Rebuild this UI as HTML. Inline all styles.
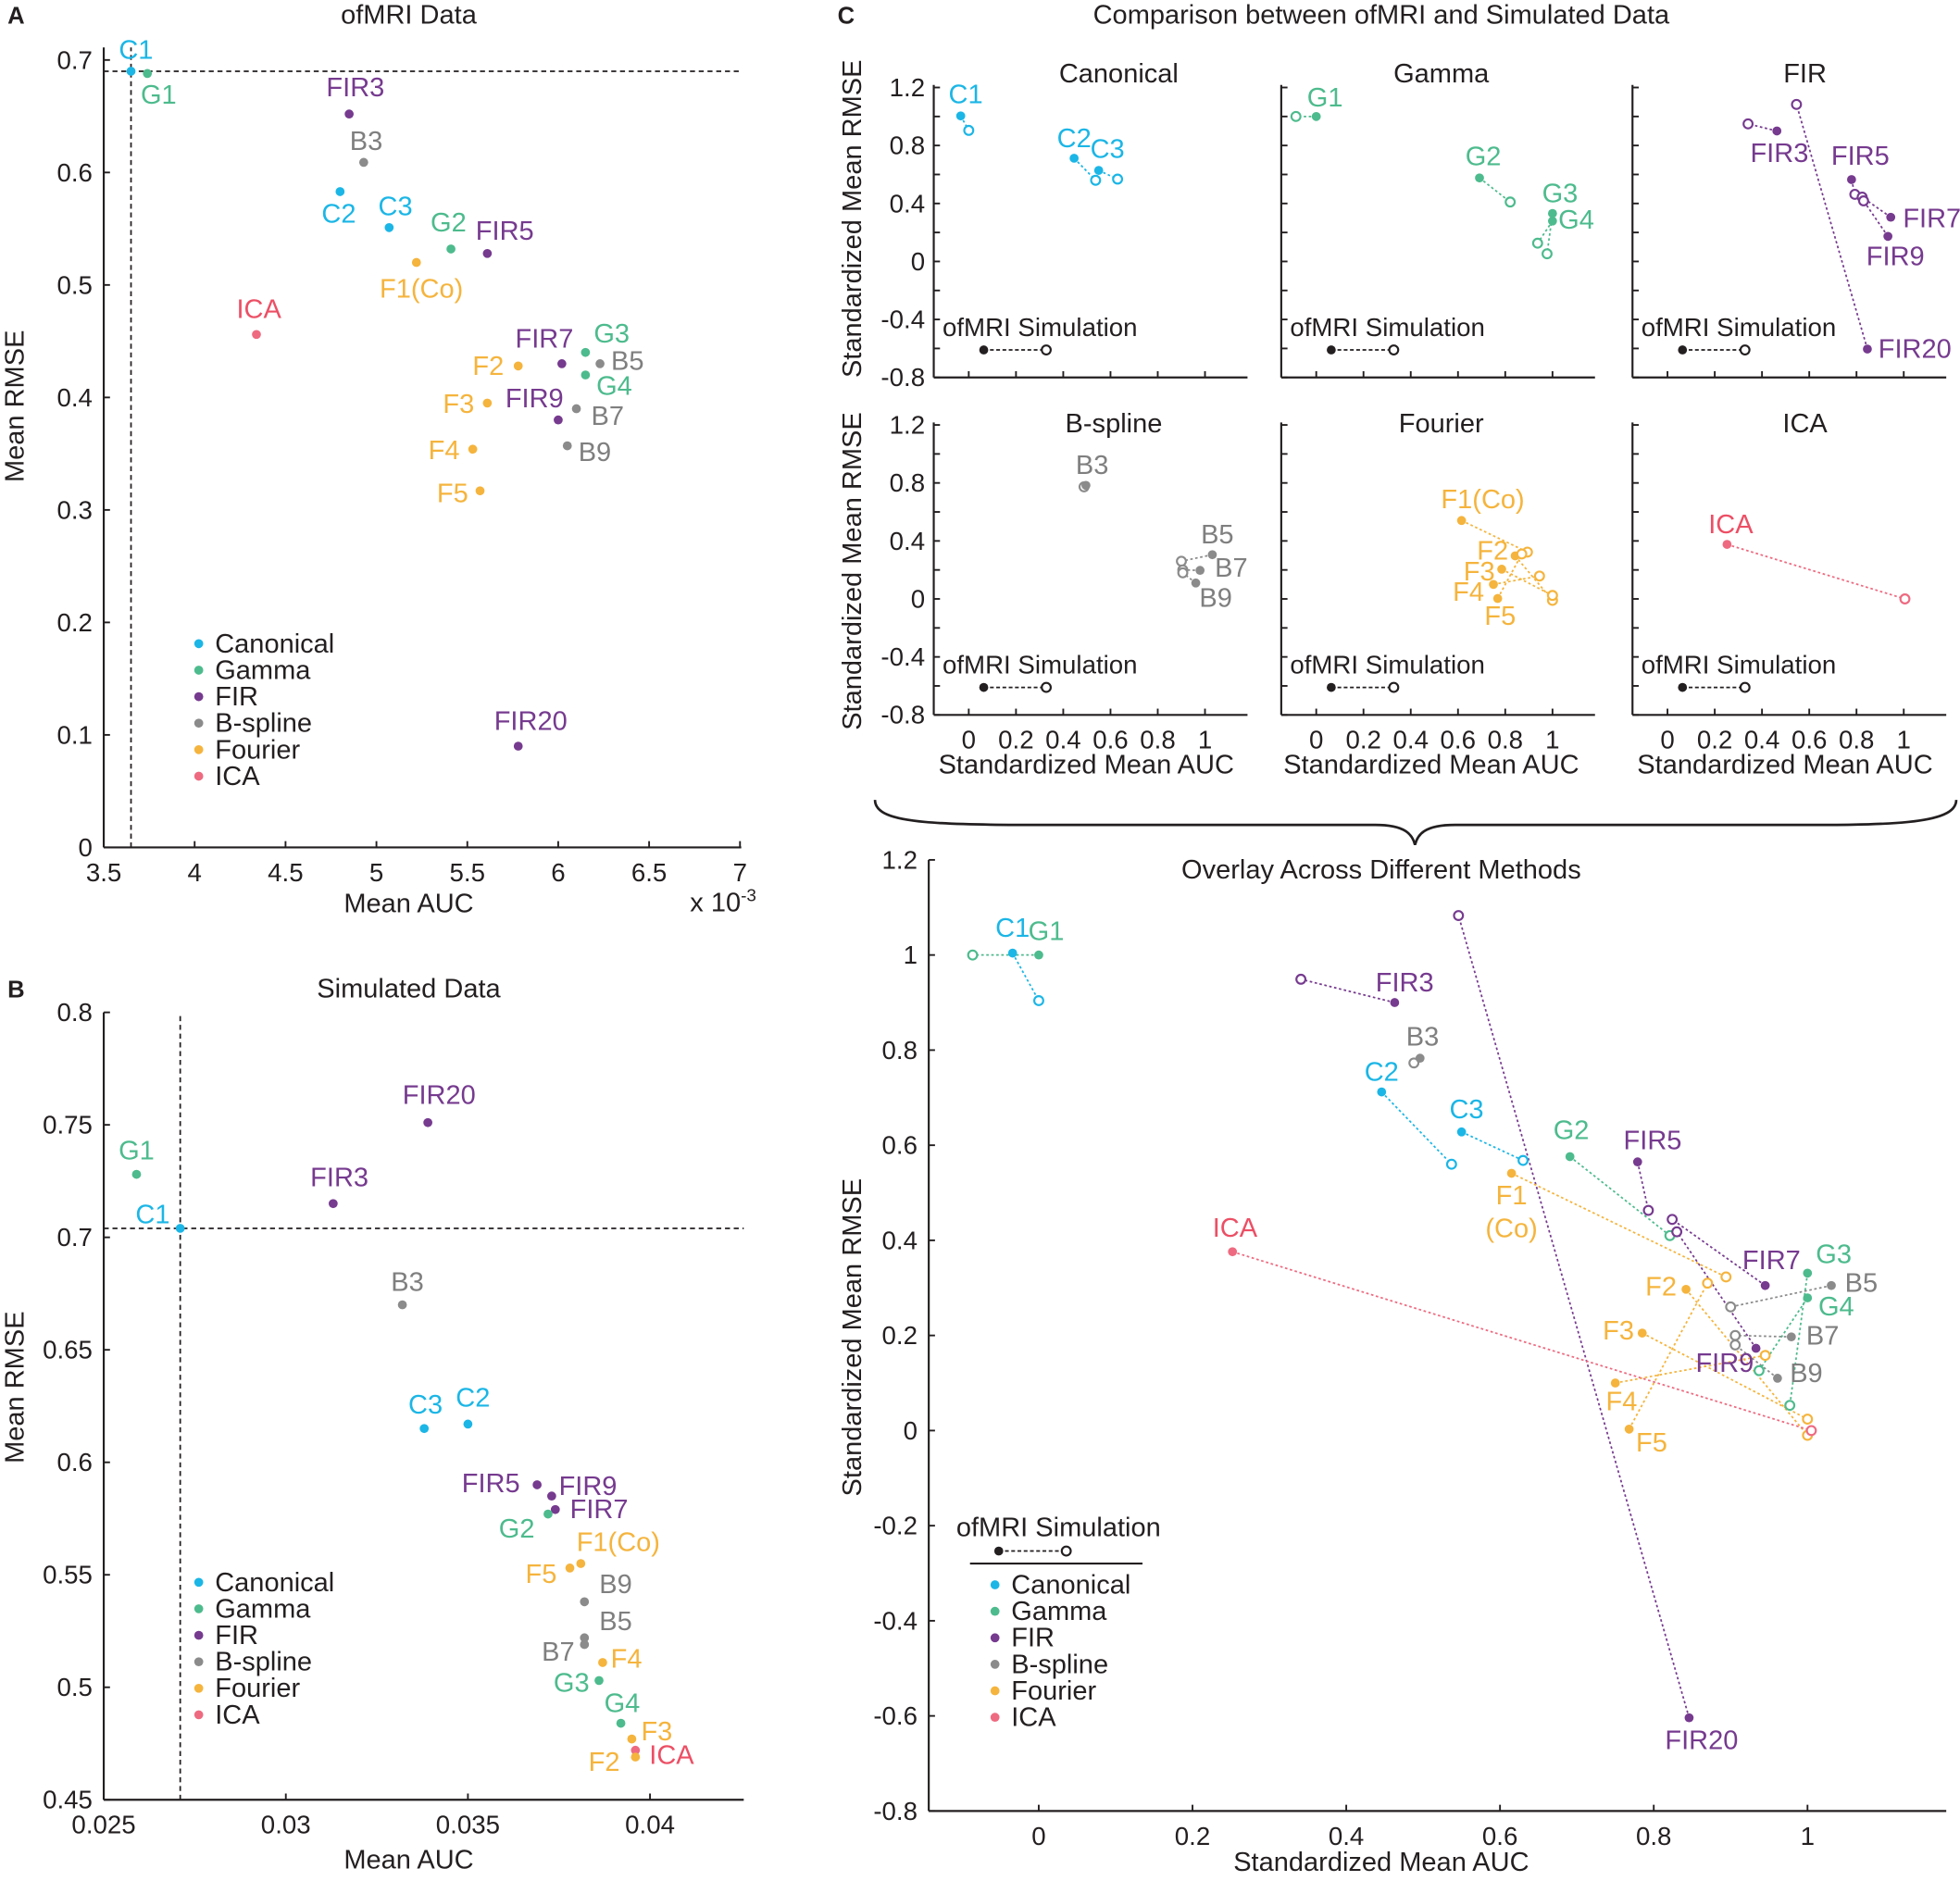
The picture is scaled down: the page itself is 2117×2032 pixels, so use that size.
<!DOCTYPE html>
<html><head><meta charset="utf-8"><style>
html,body{margin:0;padding:0;background:#fff}
svg{display:block}
text{font-family:"Liberation Sans",Arial,sans-serif;fill:#231f20}
</style></head><body>
<svg id="fig" xmlns="http://www.w3.org/2000/svg" width="2117" height="2032" viewBox="0 0 1568 1505" preserveAspectRatio="none">
<g font-size="21.5">
<text x="6" y="19" font-weight="bold" font-size="19">A</text>
<text x="6" y="798" font-weight="bold" font-size="19">B</text>
<text x="670" y="19" font-weight="bold" font-size="19">C</text>
<text x="327" y="19" text-anchor="middle">ofMRI Data</text>
<text x="327" y="798" text-anchor="middle">Simulated Data</text>
<text x="1105" y="19" text-anchor="middle">Comparison between ofMRI and Simulated Data</text>
<text x="1105" y="703" text-anchor="middle">Overlay Across Different Methods</text>
<text x="327" y="730" text-anchor="middle">Mean AUC</text>
<text x="552" y="729">x 10<tspan font-size="14" dy="-8">-3</tspan></text>
<text transform="translate(19,325) rotate(-90)" text-anchor="middle">Mean RMSE</text>
<text x="327" y="1495" text-anchor="middle">Mean AUC</text>
<text transform="translate(19,1110) rotate(-90)" text-anchor="middle">Mean RMSE</text>
<text transform="translate(689,175) rotate(-90)" text-anchor="middle">Standardized Mean RMSE</text>
<text transform="translate(689,457) rotate(-90)" text-anchor="middle">Standardized Mean RMSE</text>
<text x="869" y="619" text-anchor="middle">Standardized Mean AUC</text>
<text x="1145" y="619" text-anchor="middle">Standardized Mean AUC</text>
<text x="1428" y="619" text-anchor="middle">Standardized Mean AUC</text>
<text transform="translate(689,1070) rotate(-90)" text-anchor="middle">Standardized Mean RMSE</text>
<text x="1105" y="1497" text-anchor="middle">Standardized Mean AUC</text>
<text x="895" y="66" text-anchor="middle">Canonical</text>
<text x="1153" y="66" text-anchor="middle">Gamma</text>
<text x="1444" y="66" text-anchor="middle">FIR</text>
<text x="891" y="346" text-anchor="middle">B-spline</text>
<text x="1153" y="346" text-anchor="middle">Fourier</text>
<text x="1444" y="346" text-anchor="middle">ICA</text>
</g>
<path d="M700,640 C700,662 760,660 900,660 L1100,660 C1125,660 1130,668 1132,676 C1134,668 1139,660 1164,660 L1400,660 C1500,660 1565,662 1565,640" fill="none" stroke="#231f20" stroke-width="2"/>
</svg>
<script>
// ---- Panel A data (ofMRI) ----
const aLabels = ['C1','G1','FIR3','B3','C2','C3','G2','FIR5','F1(Co)','ICA','FIR7','G3','B5','G4','F2','F3','FIR9','B7','F4','B9','F5','FIR20'];
const aX = [3.65,3.74,4.85,4.93,4.80,5.07,5.41,5.61,5.22,4.34,6.02,6.15,6.23,6.15,5.78,5.61,6.00,6.10,5.53,6.05,5.57,5.78];
const aY = [0.690,0.688,0.652,0.609,0.583,0.551,0.532,0.528,0.520,0.456,0.430,0.440,0.430,0.420,0.428,0.395,0.380,0.390,0.354,0.357,0.317,0.090];
const aXTicks = [3.5,4,4.5,5,5.5,6,6.5,7];
const aYTicks = [0,0.1,0.2,0.3,0.4,0.5,0.6,0.7];
const aRef = [3.65,0.690];
// ---- Panel B data (simulated) ----
const bLabels = ['G1','C1','FIR3','FIR20','B3','C3','C2','FIR5','FIR9','FIR7','G2','F1(Co)','F5','B9','B5','B7','F4','G3','G4','F3','ICA','F2'];
const bX = [0.0259,0.0271,0.0313,0.0339,0.0332,0.0338,0.0350,0.0369,0.0373,0.0374,0.0372,0.0381,0.0378,0.0382,0.0382,0.0382,0.0387,0.0386,0.0392,0.0395,0.0396,0.0396];
const bY = [0.728,0.704,0.715,0.751,0.670,0.615,0.617,0.590,0.585,0.579,0.577,0.555,0.553,0.538,0.522,0.519,0.511,0.503,0.484,0.477,0.472,0.469];
const bXTicks = [0.025,0.03,0.035,0.04];
const bYTicks = [0.45,0.5,0.55,0.6,0.65,0.7,0.75,0.8];
const bRef = [0.0271,0.704];
// ---- Standardized data (panel C) ----
const sLabels = ['C1','C2','C3','G1','G2','G3','G4','FIR3','FIR5','FIR7','FIR9','FIR20','B3','B5','B7','B9','F1(Co)','F2','F3','F4','F5','ICA'];
const sGroup  = ['C','C','C','G','G','G','G','FIR','FIR','FIR','FIR','FIR','B','B','B','B','F','F','F','F','F','ICA'];
const sOfX  = [-0.034,0.446,0.550,0.000,0.691,1.000,1.000,0.463,0.779,0.945,0.933,0.846,0.496,1.031,0.979,0.961,0.615,0.842,0.785,0.750,0.768,0.252];
const sOfY  = [1.004,0.712,0.628,1.000,0.576,0.331,0.279,0.900,0.565,0.305,0.173,-0.604,0.783,0.305,0.197,0.110,0.541,0.297,0.205,0.100,0.003,0.376];
const sSimX = [0.000,0.537,0.630,-0.086,0.821,0.977,0.937,0.341,0.793,0.824,0.830,0.546,0.488,0.900,0.906,0.906,0.894,1.000,1.000,0.945,0.870,1.005];
const sSimY = [0.904,0.560,0.568,1.000,0.410,0.053,0.126,0.949,0.463,0.444,0.418,1.083,0.773,0.260,0.200,0.180,0.323,-0.010,0.024,0.158,0.310,0.000];
const sYTicksSmall = [-0.8,-0.4,0,0.4,0.8,1.2];
const sXTicksSmall = [0,0.2,0.4,0.6,0.8,1];
const sYTicksBig = [-0.8,-0.6,-0.4,-0.2,0,0.2,0.4,0.6,0.8,1,1.2];
const sXTicksBig = [0,0.2,0.4,0.6,0.8,1];
const legendNames = ['Canonical','Gamma','FIR','B-spline','Fourier','ICA'];
const legendGroups = ['C','G','FIR','B','F','ICA'];

const COLORS = {C:'#1bb6e6', G:'#4dbb8d', FIR:'#763a8f', B:'#8b8b8b', F:'#f5b43d', ICA:'#ee6a80'};
const TXT = {C:'#1bb6e6', G:'#4dbb8d', FIR:'#763a8f', B:'#7f7f7f', F:'#f5b43d', ICA:'#ec4f65'};
const FS = 21.5, TFS = 20.5;
function grp(l){ if(l.startsWith('FIR')) return 'FIR'; if(l.startsWith('ICA')) return 'ICA'; return l[0]; }

// label offsets (layout only)
const aOff = {'C1':[4,-17],'G1':[9,17],'FIR3':[5,-21],'B3':[2,-17],'C2':[-1,18],'C3':[5,-17],'G2':[-2,-21],'FIR5':[14,-18],'F1(Co)':[4,21],'ICA':[2,-20],'FIR7':[-14,-20],'G3':[21,-15],'B5':[22,-2],'G4':[23,9],'F2':[-24,0],'F3':[-23,1],'FIR9':[-19,-17],'B7':[25,6],'F4':[-23,1],'B9':[22,5],'F5':[-22,2],'FIR20':[10,-20]};
const bOff = {'G1':[0,-19],'C1':[-22,-11],'FIR3':[5,-21],'FIR20':[9,-22],'B3':[4,-18],'C3':[1,-19],'C2':[4,-21],'FIR5':[-37,-1],'FIR9':[29,-8],'FIR7':[35,0],'G2':[-25,12],'F1(Co)':[30,-17],'F5':[-23,5],'B9':[25,-14],'B5':[25,-13],'B7':[-21,6],'F4':[19,-3],'G3':[-22,2],'G4':[1,-16],'F3':[20,-6],'ICA':[29,4],'F2':[-25,4]};
const smallOff = {'C1':[4,-17],'C2':[0,-16],'C3':[7,-17],'G1':[7,-15],'G2':[3,-17],'G3':[6,-16],'G4':[19,-1],'FIR3':[2,18],'FIR5':[7,-19],'FIR7':[33,1],'FIR9':[6,16],'FIR20':[38,0],'B3':[5,-16],'B5':[4,-16],'B7':[25,-2],'B9':[16,12],'F1(Co)':[17,-17],'F2':[-18,-4],'F3':[-18,2],'F4':[-20,6],'F5':[2,14],'ICA':[3,-16]};
const bigOff = {'C1':[0,-20],'G1':[6,-19],'C2':[0,-16],'C3':[4,-18],'G2':[1,-21],'G3':[21,-15],'G4':[23,7],'FIR3':[8,-16],'FIR5':[12,-17],'FIR7':[5,-20],'FIR9':[-25,12],'FIR20':[10,18],'B3':[2,-17],'B5':[24,-2],'B7':[25,-1],'B9':[23,-4],'F1(Co)':[0,18],'F2':[-20,-2],'F3':[-19,-2],'F4':[5,15],'F5':[18,11],'ICA':[2,-19]};

const svg = document.getElementById('fig');
const NS = 'http://www.w3.org/2000/svg';
function mk(tag, attrs, parent){ const e=document.createElementNS(NS,tag); for(const k in attrs) e.setAttribute(k,attrs[k]); (parent||svg).appendChild(e); return e; }
function fmt(v){ return String(+v.toFixed(4)); }
function makeScale(d0,d1,p0,p1){ return v => p0 + (v-d0)/(d1-d0)*(p1-p0); }

function drawAxes(g, sx, sy, cfg){
  mk('line',{x1:cfg.left,y1:cfg.bottom,x2:cfg.right,y2:cfg.bottom,stroke:'#231f20','stroke-width':1.6},g);
  mk('line',{x1:cfg.left,y1:cfg.top,x2:cfg.left,y2:cfg.bottom,stroke:'#231f20','stroke-width':1.6},g);
  cfg.xTicks.forEach(t=>{
    const x=sx(t);
    mk('line',{x1:x,y1:cfg.bottom,x2:x,y2:cfg.bottom-5,stroke:'#231f20','stroke-width':1.4},g);
    if(cfg.xLabels){ const tx=mk('text',{x:x,y:cfg.bottom+27,'text-anchor':'middle','font-size':TFS},g); tx.textContent=fmt(t);
      
       }
  });
  cfg.yTicks.forEach(t=>{
    const y=sy(t);
    mk('line',{x1:cfg.left,y1:y,x2:cfg.left+5,y2:y,stroke:'#231f20','stroke-width':1.4},g);
    if(cfg.yLabels){ const tx=mk('text',{x:cfg.left-9,y:y+7,'text-anchor':'end','font-size':TFS},g); tx.textContent=fmt(t);
      
       }
  });
}
function dot(g,x,y,col,name){ const c=mk('circle',{cx:x,cy:y,r:3.6,fill:col},g);
  
   return c; }
function ring(g,x,y,col,name){ const c=mk('circle',{cx:x,cy:y,r:3.6,fill:'#fff',stroke:col,'stroke-width':1.6},g);
  
   return c; }
function label(g,x,y,txt,col,name){ const t=mk('text',{x:x,y:y+7,'text-anchor':'middle','font-size':FS,fill:col},g); t.setAttribute('style','fill:'+col); t.textContent=txt;
  
   return t; }

function legend(g,x0,y0,step){
  legendNames.forEach((n,i)=>{
    const y=y0+i*step;
    dot(g,x0,y,COLORS[legendGroups[i]],'legend-marker-'+legendGroups[i].toLowerCase());
    const t=mk('text',{x:x0+13,y:y+7,'font-size':FS},g); t.textContent=n;
    
    
  });
}

// ---- Panel A ----
(function(){
  const g=mk('g',{});
  
  
  const sx=makeScale(3.5,7,83,592), sy=makeScale(0,0.7,678,48);
  drawAxes(g,sx,sy,{left:83,right:593,top:38,bottom:678,xTicks:aXTicks,yTicks:aYTicks,xLabels:true,yLabels:true});
  mk('line',{x1:sx(aRef[0]),y1:678,x2:sx(aRef[0]),y2:38,stroke:'#231f20','stroke-width':1.3,'stroke-dasharray':'4,3'},g);
  mk('line',{x1:83,y1:sy(aRef[1]),x2:593,y2:sy(aRef[1]),stroke:'#231f20','stroke-width':1.3,'stroke-dasharray':'4,3'},g);
  aLabels.forEach((l,i)=>{
    const x=sx(aX[i]), y=sy(aY[i]), c=grp(l), o=aOff[l];
    dot(g,x,y,COLORS[c],'a-point-'+l.toLowerCase().replace(/[()]/g,''));
    label(g,x+o[0],y+o[1],l,TXT[c],'a-label-'+l.toLowerCase().replace(/[()]/g,''));
  });
  legend(g,159,515,21.2);
})();

// ---- Panel B ----
(function(){
  const g=mk('g',{});
  
  
  const sx=makeScale(0.025,0.04,83,520), sy=makeScale(0.45,0.8,1440,810);
  drawAxes(g,sx,sy,{left:83,right:595,top:810,bottom:1440,xTicks:bXTicks,yTicks:bYTicks,xLabels:true,yLabels:true});
  mk('line',{x1:sx(bRef[0]),y1:1440,x2:sx(bRef[0]),y2:812,stroke:'#231f20','stroke-width':1.3,'stroke-dasharray':'4,3'},g);
  mk('line',{x1:83,y1:sy(bRef[1]),x2:595,y2:sy(bRef[1]),stroke:'#231f20','stroke-width':1.3,'stroke-dasharray':'4,3'},g);
  bLabels.forEach((l,i)=>{
    const x=sx(bX[i]), y=sy(bY[i]), c=grp(l), o=bOff[l];
    dot(g,x,y,COLORS[c],'b-point-'+l.toLowerCase().replace(/[()]/g,''));
    label(g,x+o[0],y+o[1],l,TXT[c],'b-label-'+l.toLowerCase().replace(/[()]/g,''));
  });
  legend(g,159,1266,21.2);
})();

// ---- Panel C small multiples ----
const smallPanels = [
  {g:'C',left:747,top:68,bottom:302,row:0,col:0},
  {g:'G',left:1025,top:68,bottom:302,row:0,col:1},
  {g:'FIR',left:1306,top:68,bottom:302,row:0,col:2},
  {g:'B',left:747,top:338,bottom:572,row:1,col:0},
  {g:'F',left:1025,top:338,bottom:572,row:1,col:1},
  {g:'ICA',left:1306,top:338,bottom:572,row:1,col:2}
];
smallPanels.forEach(p=>{
  const g=mk('g',{});
  
  
  const x0=p.left+28, sx=makeScale(0,1,x0,x0+189), sy=makeScale(-0.8,1.2,p.bottom,p.bottom-232);
  drawAxes(g,sx,sy,{left:p.left,right:p.left+251,top:p.top,bottom:p.bottom,xTicks:sXTicksSmall,yTicks:[-0.8,-0.6,-0.4,-0.2,0,0.2,0.4,0.6,0.8,1,1.2],xLabels:p.row===1,yLabels:false});
  if(p.col===0){ sYTicksSmall.forEach(t=>{ const tx=mk('text',{x:p.left-7,y:sy(t)+7,'text-anchor':'end','font-size':TFS},g); tx.textContent=fmt(t);
    
     }); }
  const ky=p.bottom-22, kt=mk('text',{x:p.left+7,y:ky-11,'font-size':20.5},g); kt.textContent='ofMRI  Simulation';
  
  
  mk('line',{x1:p.left+40,y1:ky,x2:p.left+90,y2:ky,stroke:'#231f20','stroke-width':1.3,'stroke-dasharray':'3,2'},g);
  dot(g,p.left+40,ky,'#231f20','key-ofmri-marker'); ring(g,p.left+90,ky,'#231f20','key-simulation-marker');
  sLabels.forEach((l,i)=>{
    if(sGroup[i]!==p.g) return;
    const c=COLORS[p.g], xo=sx(sOfX[i]), yo=sy(sOfY[i]), xs=sx(sSimX[i]), ys=sy(sSimY[i]);
    mk('line',{x1:xo,y1:yo,x2:xs,y2:ys,stroke:c,'stroke-width':1.3,'stroke-dasharray':'2,2'},g);
    ring(g,xs,ys,c,'sim-point-'+l.toLowerCase().replace(/[()]/g,''));
    dot(g,xo,yo,c,'ofmri-point-'+l.toLowerCase().replace(/[()]/g,''));
    const o=smallOff[l]; label(g,xo+o[0],yo+o[1],l,TXT[p.g],'small-label-'+l.toLowerCase().replace(/[()]/g,''));
  });
});

// ---- Overlay panel ----
(function(){
  const g=mk('g',{});
  
  
  const sx=makeScale(0,1,831,1446), sy=makeScale(-0.8,1.2,1449,688);
  drawAxes(g,sx,sy,{left:743,right:1557,top:688,bottom:1449,xTicks:sXTicksBig,yTicks:sYTicksBig,xLabels:true,yLabels:true});
  sLabels.forEach((l,i)=>{
    const c=COLORS[sGroup[i]], xo=sx(sOfX[i]), yo=sy(sOfY[i]), xs=sx(sSimX[i]), ys=sy(sSimY[i]);
    mk('line',{x1:xo,y1:yo,x2:xs,y2:ys,stroke:c,'stroke-width':1.3,'stroke-dasharray':'2,2'},g);
  });
  sLabels.forEach((l,i)=>{
    const c=COLORS[sGroup[i]], xo=sx(sOfX[i]), yo=sy(sOfY[i]), xs=sx(sSimX[i]), ys=sy(sSimY[i]);
    ring(g,xs,ys,c,'overlay-sim-'+l.toLowerCase().replace(/[()]/g,''));
    dot(g,xo,yo,c,'overlay-ofmri-'+l.toLowerCase().replace(/[()]/g,''));
    const o=bigOff[l];
    if(l==='F1(Co)'){ label(g,xo+o[0],yo+o[1],'F1',TXT.F,'overlay-label-f1'); label(g,xo+o[0],yo+o[1]+26,'(Co)',TXT.F,'overlay-label-f1-co'); }
    else label(g,xo+o[0],yo+o[1],l,TXT[sGroup[i]],'overlay-label-'+l.toLowerCase());
  });
  const kt=mk('text',{x:765,y:1229,'font-size':FS},g); kt.textContent='ofMRI  Simulation';
  
  
  mk('line',{x1:799,y1:1241,x2:853,y2:1241,stroke:'#231f20','stroke-width':1.3,'stroke-dasharray':'3,2'},g);
  dot(g,799,1241,'#231f20','overlay-key-ofmri'); ring(g,853,1241,'#231f20','overlay-key-sim');
  mk('line',{x1:776,y1:1251,x2:914,y2:1251,stroke:'#231f20','stroke-width':1.5},g);
  legend(g,796,1268,21.2);
})();
</script>
</body></html>
